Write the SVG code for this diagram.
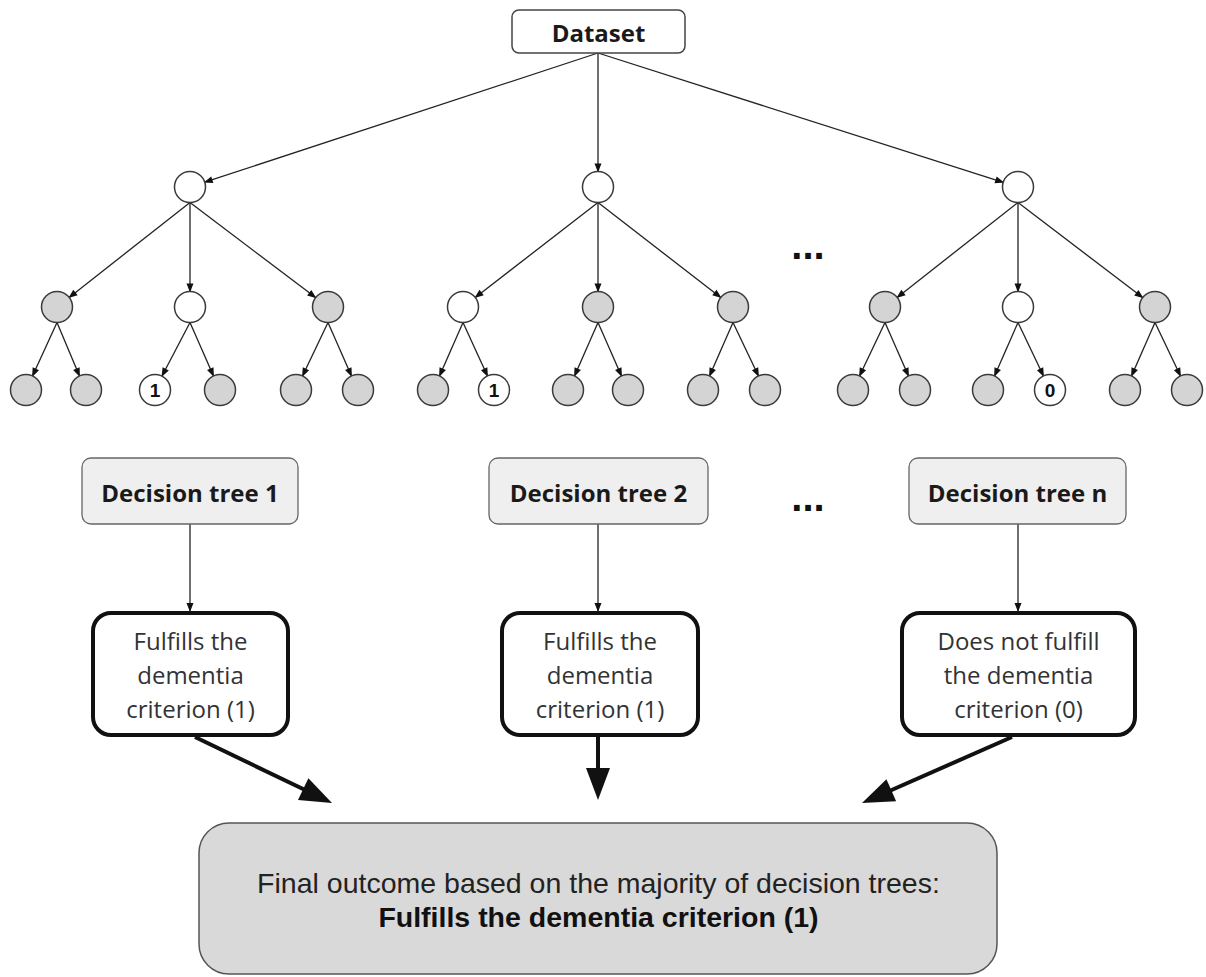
<svg xmlns="http://www.w3.org/2000/svg" width="1206" height="977" viewBox="0 0 1206 977">
<style>
.bg{fill:#ffffff}
.cw{fill:#ffffff;stroke:#3a3a3a;stroke-width:1.5}
.cg{fill:#d4d4d4;stroke:#3a3a3a;stroke-width:1.5}
.edge{stroke:#222;stroke-width:1.3;fill:none;marker-end:url(#ah)}
.thick{stroke:#111;stroke-width:4;fill:none;marker-end:url(#ahb)}
.ds{fill:#ffffff;stroke:#444;stroke-width:1.5}
.dt{fill:#efefef;stroke:#666;stroke-width:1.3}
.res{fill:#ffffff;stroke:#111;stroke-width:4}
.fin{fill:#d9d9d9;stroke:#555;stroke-width:1.5}
.tb{font-family:'Open Sans','DejaVu Sans',sans-serif;font-weight:bold;font-size:24px;fill:#1a1a1a;text-anchor:middle}
.tr{font-family:'Open Sans','DejaVu Sans',sans-serif;font-size:24px;fill:#333;text-anchor:middle}
.ta{font-family:'Liberation Sans',Arial,sans-serif;font-size:28.5px;fill:#222;text-anchor:middle}
.tab{font-family:'Liberation Sans',Arial,sans-serif;font-size:28.5px;font-weight:bold;fill:#111;text-anchor:middle}
.num{font-family:'Liberation Sans',Arial,sans-serif;font-size:19px;font-weight:bold;fill:#111;text-anchor:middle}
.dots{font-family:'Liberation Sans',Arial,sans-serif;font-size:40px;font-weight:bold;fill:#111;text-anchor:middle}
</style>
<defs>
<marker id="ah" markerUnits="userSpaceOnUse" markerWidth="9" markerHeight="7" refX="8" refY="3.5" orient="auto" overflow="visible">
<path d="M0,0 L9,3.5 L0,7 z" fill="#111"/>
</marker>
<marker id="ahb" markerUnits="userSpaceOnUse" markerWidth="32" markerHeight="24" refX="12" refY="12" orient="auto" overflow="visible">
<path d="M0,0 L32,12 L0,24 z" fill="#111"/>
</marker>
</defs>
<rect class="bg" x="0" y="0" width="1206" height="977"/>

<g id="connectors">
<line class="edge" x1="598" y1="53" x2="204.7" y2="182.2"/>
<line class="edge" x1="598" y1="53" x2="598" y2="171.5"/>
<line class="edge" x1="598" y1="53" x2="1003.2" y2="182.3"/>
<line class="edge" x1="190" y1="202.5" x2="69.2" y2="297.4"/>
<line class="edge" x1="190" y1="202.5" x2="190" y2="291.5"/>
<line class="edge" x1="190" y1="202.5" x2="315.6" y2="297.6"/>
<line class="edge" x1="57" y1="322.5" x2="32.5" y2="376"/>
<line class="edge" x1="57" y1="322.5" x2="79.5" y2="376"/>
<line class="edge" x1="190" y1="322.5" x2="162" y2="376"/>
<line class="edge" x1="190" y1="322.5" x2="213.5" y2="376"/>
<line class="edge" x1="328" y1="322.5" x2="302.5" y2="376"/>
<line class="edge" x1="328" y1="322.5" x2="351.5" y2="376"/>
<line class="edge" x1="598" y1="202.5" x2="475.3" y2="297.5"/>
<line class="edge" x1="598" y1="202.5" x2="598" y2="291.5"/>
<line class="edge" x1="598" y1="202.5" x2="720.7" y2="297.5"/>
<line class="edge" x1="463" y1="322.5" x2="439.5" y2="376"/>
<line class="edge" x1="463" y1="322.5" x2="487.5" y2="376"/>
<line class="edge" x1="598" y1="322.5" x2="574.5" y2="376"/>
<line class="edge" x1="598" y1="322.5" x2="621.5" y2="376"/>
<line class="edge" x1="733" y1="322.5" x2="709.5" y2="376"/>
<line class="edge" x1="733" y1="322.5" x2="758.5" y2="376"/>
<line class="edge" x1="1018" y1="202.5" x2="897.2" y2="297.4"/>
<line class="edge" x1="1018" y1="202.5" x2="1018" y2="291.5"/>
<line class="edge" x1="1018" y1="202.5" x2="1142.7" y2="297.6"/>
<line class="edge" x1="885" y1="322.5" x2="859.5" y2="376"/>
<line class="edge" x1="885" y1="322.5" x2="908.5" y2="376"/>
<line class="edge" x1="1018" y1="322.5" x2="994.5" y2="376"/>
<line class="edge" x1="1018" y1="322.5" x2="1043.5" y2="376"/>
<line class="edge" x1="1155" y1="322.5" x2="1131.5" y2="376"/>
<line class="edge" x1="1155" y1="322.5" x2="1180.5" y2="376"/>
<line class="edge" x1="190" y1="524" x2="190" y2="611"/>
<line class="edge" x1="598" y1="524" x2="598" y2="611"/>
<line class="edge" x1="1018" y1="524" x2="1018" y2="611"/>
<line class="thick" x1="195" y1="737" x2="314" y2="794.3"/>
<line class="thick" x1="598" y1="737" x2="598" y2="780"/>
<line class="thick" x1="1012" y1="737" x2="880.3" y2="795"/>
</g>

<g id="dataset">
<rect class="ds" x="512" y="10" width="173" height="43" rx="7"/>
<text class="tb" x="598.5" y="42">Dataset</text>
</g>

<g id="tree1">
<circle class="cw" cx="190" cy="187" r="15.5"/>
<circle class="cg" cx="57" cy="307" r="15.5"/>
<circle class="cw" cx="190" cy="307" r="15.5"/>
<circle class="cg" cx="328" cy="307" r="15.5"/>
<circle class="cg" cx="26" cy="390" r="15.5"/>
<circle class="cg" cx="86" cy="390" r="15.5"/>
<circle class="cw" cx="155" cy="390" r="15.5"/>
<text class="num" x="155" y="397">1</text>
<circle class="cg" cx="220" cy="390" r="15.5"/>
<circle class="cg" cx="296" cy="390" r="15.5"/>
<circle class="cg" cx="358" cy="390" r="15.5"/>
</g>

<g id="tree2">
<circle class="cw" cx="598" cy="187" r="15.5"/>
<circle class="cw" cx="463" cy="307" r="15.5"/>
<circle class="cg" cx="598" cy="307" r="15.5"/>
<circle class="cg" cx="733" cy="307" r="15.5"/>
<circle class="cg" cx="433" cy="390" r="15.5"/>
<circle class="cw" cx="494" cy="390" r="15.5"/>
<text class="num" x="494" y="397">1</text>
<circle class="cg" cx="568" cy="390" r="15.5"/>
<circle class="cg" cx="628" cy="390" r="15.5"/>
<circle class="cg" cx="703" cy="390" r="15.5"/>
<circle class="cg" cx="765" cy="390" r="15.5"/>
</g>

<g id="ellipsis-trees">
<text class="dots" x="808" y="259">...</text>
</g>

<g id="tree3">
<circle class="cw" cx="1018" cy="187" r="15.5"/>
<circle class="cg" cx="885" cy="307" r="15.5"/>
<circle class="cw" cx="1018" cy="307" r="15.5"/>
<circle class="cg" cx="1155" cy="307" r="15.5"/>
<circle class="cg" cx="853" cy="390" r="15.5"/>
<circle class="cg" cx="915" cy="390" r="15.5"/>
<circle class="cg" cx="988" cy="390" r="15.5"/>
<circle class="cw" cx="1050" cy="390" r="15.5"/>
<text class="num" x="1050" y="397">0</text>
<circle class="cg" cx="1125" cy="390" r="15.5"/>
<circle class="cg" cx="1187" cy="390" r="15.5"/>
</g>

<g id="dt1">
<rect class="dt" x="82" y="458" width="216" height="66" rx="9"/>
<text class="tb" x="190" y="502">Decision tree 1</text>
</g>
<g id="dt2">
<rect class="dt" x="489" y="458" width="219" height="66" rx="9"/>
<text class="tb" x="598.5" y="502">Decision tree 2</text>
</g>
<g id="ellipsis-dt">
<text class="dots" x="808" y="511">...</text>
</g>
<g id="dtn">
<rect class="dt" x="909" y="458" width="217" height="66" rx="9"/>
<text class="tb" x="1017.5" y="502">Decision tree n</text>
</g>

<g id="res1">
<rect class="res" x="93" y="613" width="195" height="122" rx="18"/>
<text class="tr" x="190.5" y="650">Fulfills the</text>
<text class="tr" x="190.5" y="684">dementia</text>
<text class="tr" x="190.5" y="718">criterion (1)</text>
</g>
<g id="res2">
<rect class="res" x="502" y="613" width="196" height="122" rx="18"/>
<text class="tr" x="600" y="650">Fulfills the</text>
<text class="tr" x="600" y="684">dementia</text>
<text class="tr" x="600" y="718">criterion (1)</text>
</g>
<g id="resn">
<rect class="res" x="902" y="613" width="233" height="122" rx="18"/>
<text class="tr" x="1018.5" y="650">Does not fulfill</text>
<text class="tr" x="1018.5" y="684">the dementia</text>
<text class="tr" x="1018.5" y="718">criterion (0)</text>
</g>

<g id="final">
<rect class="fin" x="199" y="823" width="798" height="151" rx="30"/>
<text class="ta" x="598.5" y="893">Final outcome based on the majority of decision trees:</text>
<text class="tab" x="598.5" y="927">Fulfills the dementia criterion (1)</text>
</g>
</svg>
